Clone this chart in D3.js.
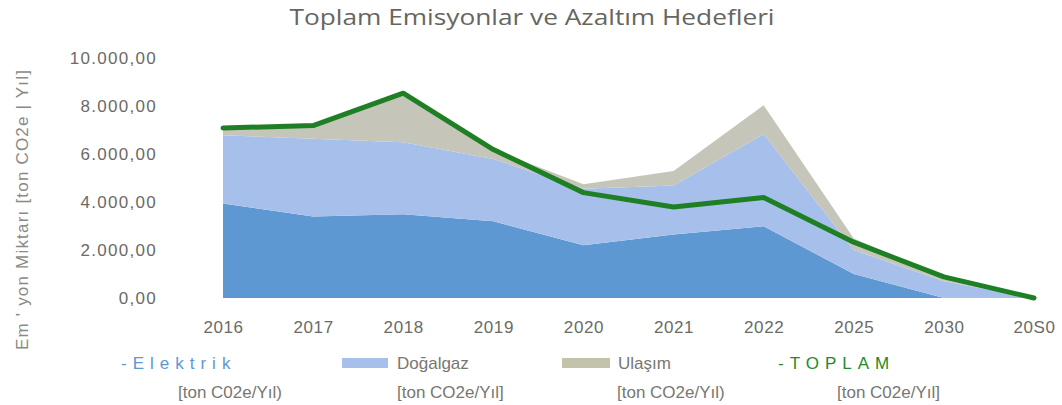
<!DOCTYPE html>
<html><head><meta charset="utf-8">
<script src="https://cdn.jsdelivr.net/npm/d3@7"></script>
<style>
body{margin:0;background:#fff;}
svg{display:block;}
</style></head>
<body>
<svg id="chart" width="1062" height="405"></svg>
<script>
const years = ["2016","2017","2018","2019","2020","2021","2022","2025","2030","20S0"];
const elektrik = [3950, 3400, 3500, 3200, 2200, 2650, 3000, 1000, 0, 0];
const dogalgaz = [2850, 3250, 3000, 2600, 2360, 2050, 3850, 1000, 700, 0];
const ulasim   = [300, 550, 2050, 400, 190, 600, 1200, 480, 180, 0];
const toplam   = [7100, 7200, 8550, 6200, 4400, 3800, 4200, 2330, 880, 0];
const yTicks = [0, 2000, 4000, 6000, 8000, 10000];
const seriesKeys = ["Elektrik", "Doğalgaz", "Ulaşım"];
const colors = {"Elektrik":"#5e98d3", "Doğalgaz":"#a7c0eb", "Ulaşım":"#c5c5b9"};

const svg = d3.select("#chart");
const x = d3.scalePoint().domain(years).range([223, 1034]);
const y = d3.scaleLinear().domain([0, 10000]).range([298, 58.5]);

const table = years.map((yr, i) => ({year: yr, "Elektrik": elektrik[i], "Doğalgaz": dogalgaz[i], "Ulaşım": ulasim[i], total: toplam[i]}));
const stacked = d3.stack().keys(seriesKeys)(table);

const area = d3.area().x(d => x(d.data.year)).y0(d => y(d[0])).y1(d => y(d[1]));
svg.append("g").selectAll("path").data(stacked).join("path")
  .attr("d", area).attr("fill", d => colors[d.key]);

const line = d3.line().x(d => x(d.year)).y(d => y(d.total));
svg.append("path").datum(table).attr("d", line)
  .attr("fill", "none").attr("stroke", "#1e7f24").attr("stroke-width", 5)
  .attr("stroke-linejoin", "round").attr("stroke-linecap", "round");

const loc = d3.formatLocale({decimal: ",", thousands: ".", grouping: [3], currency: ["", ""]});
const fmt = loc.format(",.2f");

const yAxis = svg.append("g").attr("transform", "translate(160,0)")
  .call(d3.axisLeft(y).tickValues(yTicks).tickFormat(fmt).tickSize(0).tickPadding(3));
yAxis.select(".domain").remove();
yAxis.selectAll("text").attr("font-family", "Liberation Sans, Arial, sans-serif")
  .attr("font-size", 17).attr("fill", "#6b6b66").attr("letter-spacing", 1.3);

const xAxis = svg.append("g").attr("transform", "translate(0,298)")
  .call(d3.axisBottom(x).tickSize(0).tickPadding(23));
xAxis.select(".domain").remove();
xAxis.selectAll("text").attr("font-family", "Liberation Sans, Arial, sans-serif")
  .attr("font-size", 17).attr("fill", "#6b6b66").attr("letter-spacing", 0.6);

svg.append("text").attr("x", 532).attr("y", 25).attr("text-anchor", "middle")
  .attr("font-family", "Open Sans, sans-serif").attr("font-size", 21)
  .attr("fill", "#666660").attr("textLength", 485).attr("lengthAdjust", "spacingAndGlyphs")
  .text("Toplam Emisyonlar ve Azaltım Hedefleri");

svg.append("text").attr("transform", "translate(28,210) rotate(-90)")
  .attr("text-anchor", "middle").attr("font-family", "Liberation Sans, Arial, sans-serif")
  .attr("font-size", 17).attr("fill", "#8a8a86")
  .attr("textLength", 280).attr("lengthAdjust", "spacing")
  .text("Em ' yon Miktarı [ton CO2e | Yıl]");

// Legend
const lg = svg.append("g").attr("font-family", "Liberation Sans, Arial, sans-serif").attr("font-size", 17);
lg.append("text").attr("x", 121).attr("y", 369).attr("fill", colors["Elektrik"]).attr("letter-spacing", 6).text("-Elektrik");
lg.append("text").attr("x", 178).attr("y", 398).attr("fill", "#777772").text("[ton C02e/Yıl)");
lg.append("rect").attr("x", 342).attr("y", 358).attr("width", 46).attr("height", 10).attr("fill", colors["Doğalgaz"]);
lg.append("text").attr("x", 397).attr("y", 369).attr("fill", "#777772").text("Doğalgaz");
lg.append("text").attr("x", 397).attr("y", 398).attr("fill", "#777772").text("[ton CO2e/Yıl]");
lg.append("rect").attr("x", 562).attr("y", 358).attr("width", 48).attr("height", 10).attr("fill", "#c3c3ac");
lg.append("text").attr("x", 618).attr("y", 369).attr("fill", "#777772").text("Ulaşım");
lg.append("text").attr("x", 617).attr("y", 398).attr("fill", "#777772").text("[ton CO2e/Yıl)");
lg.append("text").attr("x", 778).attr("y", 369).attr("fill", "#1e8a2c").attr("letter-spacing", 6).text("-TOPLAM");
lg.append("text").attr("x", 837).attr("y", 398).attr("fill", "#777772").text("[ton C02e/Yıl]");
</script>
</body></html>
